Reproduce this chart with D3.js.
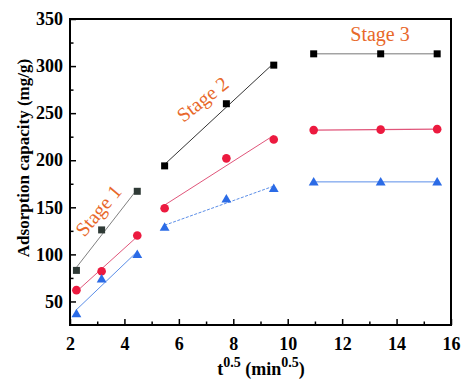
<!DOCTYPE html>
<html><head><meta charset="utf-8">
<script src="https://cdn.jsdelivr.net/npm/d3@7"></script>
<style>body{margin:0;background:#fff}svg{display:block}
svg text{font-family:"Liberation Serif","Times New Roman","DejaVu Serif",serif}</style>
</head><body>
<svg id="c" width="474" height="386"></svg>
<script>
const xValues = [2.236, 3.162, 4.472, 5.477, 7.746, 9.487, 10.954, 13.416, 15.492];
const blackValues = [83, 126, 167, 194, 260, 301, 313, 313, 313];
const redValues = [62, 82, 120, 149, 202, 222, 232, 232.5, 233];
const blueValues = [37, 74, 100, 129, 159, 170, 177, 177, 177];
const stageGroups = [[0, 1, 2], [3, 4, 5], [6, 7, 8]];
const stageLabels = ["Stage 1", "Stage 2", "Stage 3"];
const xTicks = [2, 4, 6, 8, 10, 12, 14, 16];
const yTicks = [50, 100, 150, 200, 250, 300, 350];

const svg = d3.select("#c");
const L = 70, R = 451, T = 19, B = 325;
const x = d3.scaleLinear().domain([2, 16]).range([L, R]);
const y = d3.scaleLinear().domain([25, 350]).range([B, T]);

function fit(idx, vals) {
  const xs = idx.map(i => xValues[i]), ys = idx.map(i => vals[i]);
  const mx = d3.mean(xs), my = d3.mean(ys);
  let num = 0, den = 0;
  xs.forEach((v, k) => { num += (v - mx) * (ys[k] - my); den += (v - mx) ** 2; });
  const b = num / den, a = my - b * mx;
  return [[xs[0], a + b * xs[0]], [xs[xs.length - 1], a + b * xs[xs.length - 1]]];
}

const series = [
  {vals: blackValues, line: ["#808080", "#333", "#777"], dash: [null, null, null], mark: ["#2f3a36", "#000", "#000"], shape: "square"},
  {vals: redValues, line: ["#e0557a", "#e0557a", "#e0557a"], dash: [null, null, null], mark: ["#ec1a3f", "#ec1a3f", "#ec1a3f"], shape: "circle"},
  {vals: blueValues, line: ["#5b8ee8", "#5b8ee8", "#5b8ee8"], dash: [null, "3,1.5", null], mark: ["#2b6be6", "#2b6be6", "#2b6be6"], shape: "triangle"}
];

series.forEach(s => {
  stageGroups.forEach((g, si) => {
    const p = fit(g, s.vals);
    svg.append("line")
      .attr("x1", x(p[0][0])).attr("y1", y(p[0][1]))
      .attr("x2", x(p[1][0])).attr("y2", y(p[1][1]))
      .attr("stroke", s.line[si]).attr("stroke-width", s.vals === redValues && si === 2 ? 1.4 : 1)
      .attr("stroke-dasharray", s.dash[si]);
  });
});

series.forEach(s => {
  stageGroups.forEach((g, si) => {
    g.forEach(i => {
      const cx = x(xValues[i]), cy = y(s.vals[i]);
      if (s.shape === "square") {
        svg.append("rect").attr("x", cx - 3.5).attr("y", cy - 3.5).attr("width", 7).attr("height", 7).attr("fill", s.mark[si]);
      } else if (s.shape === "circle") {
        svg.append("circle").attr("cx", cx).attr("cy", cy).attr("r", 4.3).attr("fill", s.mark[si]);
      } else {
        svg.append("path").attr("d", d3.symbol(d3.symbolTriangle, 42)()).attr("transform", `translate(${cx},${cy + 0.8})`).attr("fill", s.mark[si]);
      }
    });
  });
});

svg.append("g").attr("transform", `translate(0,${B})`)
  .call(d3.axisBottom(x).tickValues(xTicks).tickSize(-6).tickPadding(12).tickFormat(d3.format("d")));
svg.append("g").attr("transform", `translate(0,${B})`)
  .call(d3.axisBottom(x).tickValues(d3.range(3, 16, 2)).tickSize(-3.5).tickFormat(""));
svg.append("g").attr("transform", `translate(${L},0)`)
  .call(d3.axisLeft(y).tickValues(yTicks).tickSize(-6).tickPadding(7));
svg.append("g").attr("transform", `translate(${L},0)`)
  .call(d3.axisLeft(y).tickValues(d3.range(75, 350, 50)).tickSize(-3.5).tickFormat(""));
svg.selectAll(".domain").remove();
svg.selectAll("g[font-family]").attr("font-family", null);
svg.selectAll(".tick line").attr("stroke", "#000").attr("stroke-width", 1.5);
svg.selectAll(".tick text").attr("font-weight", "bold").attr("font-size", 18).attr("fill", "#000");

svg.append("rect").attr("x", L).attr("y", T).attr("width", R - L).attr("height", B - T)
  .attr("fill", "none").attr("stroke", "#000").attr("stroke-width", 2);

svg.append("text").attr("transform", `translate(29,158) rotate(-90)`).attr("text-anchor", "middle")
  .attr("font-weight", "bold").attr("font-size", 17).text("Adsorption capacity (mg/g)");
const xt = svg.append("text").attr("x", 261).attr("y", 375).attr("text-anchor", "middle")
  .attr("font-weight", "bold").attr("font-size", 18);
xt.append("tspan").text("t");
xt.append("tspan").attr("dy", -8).attr("font-size", 14).text("0.5");
xt.append("tspan").attr("dy", 8).text(" (min");
xt.append("tspan").attr("dy", -8).attr("font-size", 14).text("0.5");
xt.append("tspan").attr("dy", 8).text(")");

const stagePos = [[100, 212, -50], [204, 101, -38], [380, 36, 0]];
stageLabels.forEach((t, i) => {
  svg.append("text").attr("transform", `translate(${stagePos[i][0]},${stagePos[i][1]}) rotate(${stagePos[i][2]})`)
    .attr("text-anchor", "middle").attr("dominant-baseline", "middle")
    .attr("font-size", 20).attr("fill", "#e8682a").text(t);
});
</script>
</body></html>
